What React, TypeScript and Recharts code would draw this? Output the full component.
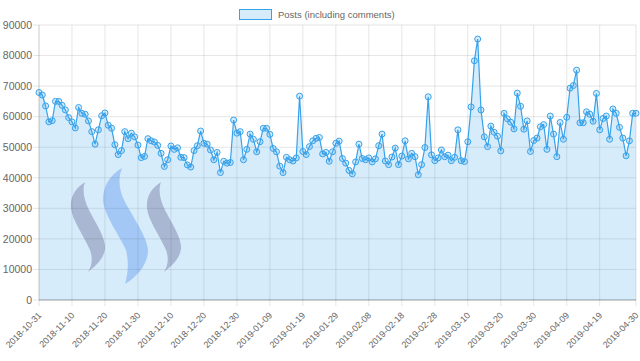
import { ComposedChart, Area, XAxis, YAxis, CartesianGrid } from 'recharts'

const startDate = '2018-10-31'

const posts = [
  67900, 67100, 63500, 58300, 58700, 65000, 65000, 63700, 62200, 59700,
  58300, 56300, 63000, 61100, 60800, 58600, 55100, 51000, 55700, 60300,
  61200, 57200, 56200, 50800, 47600, 48900, 55100, 52800, 54600, 53400,
  50700, 46600, 47000, 52800, 52100, 51700, 50600, 48000, 43700, 45900,
  50400, 49300, 49800, 46700, 46600, 44200, 43500, 48900, 50500, 55300,
  51300, 51000, 49100, 45900, 48300, 41700, 45400, 44800, 45000, 58900,
  54600, 55100, 45900, 49300, 54300, 52600, 48500, 51800, 56200, 56200,
  54200, 49600, 48500, 43800, 41700, 46700, 45900, 45500, 46500, 66700,
  48600, 47600, 50200, 52100, 52900, 53200, 47800, 48300, 45400, 48500,
  51300, 52000, 46300, 44800, 42400, 41300, 45200, 51000, 46300, 45900,
  46500, 45200, 46200, 50500, 54300, 45500, 44300, 46800, 49700, 44300,
  47100, 52100, 46200, 48000, 46900, 41000, 44300, 49900, 66500, 47500,
  45600, 46500, 49100, 46900, 47400, 45600, 46700, 55700, 45600, 45300,
  51800, 63200, 78300, 85400, 62200, 53400, 50200, 56900, 54900, 53600,
  48800, 61100, 59300, 58200, 56000, 67700, 63400, 55900, 58600, 48600,
  52200, 53000, 56700, 57400, 49300, 60200, 54300, 46900, 58100, 52600,
  59800, 69300, 70200, 75200, 58000, 58000, 61600, 60800, 58500, 67600,
  55700, 59400, 60200, 52600, 62500, 61100, 56500, 53000, 47200, 52100,
  61100, 61100,
]

const xTicks = [
  '2018-10-31', '2018-11-10', '2018-11-20', '2018-11-30', '2018-12-10',
  '2018-12-20', '2018-12-30', '2019-01-09', '2019-01-19', '2019-01-29',
  '2019-02-08', '2019-02-18', '2019-02-28', '2019-03-10', '2019-03-20',
  '2019-03-30', '2019-04-09', '2019-04-19', '2019-04-30',
]

const yTicks = [0, 10000, 20000, 30000, 40000, 50000, 60000, 70000, 80000, 90000]

const seriesName = 'Posts (including comments)'

// one label per day, starting at startDate
const dates = posts.map((_, i) => {
  const d = new Date(startDate + 'T00:00:00Z')
  d.setUTCDate(d.getUTCDate() + i)
  return d.toISOString().slice(0, 10)
})

const data = dates.map((date, i) => ({ date, posts: posts[i] }))

const BLUE = 'rgb(54,162,235)'
const BLUE_FILL = 'rgba(54,162,235,0.2)'
const FONT = '"Liberation Sans", Arial, Helvetica, sans-serif'

function DateTick({ x, y, payload }: any) {
  return (
    <text
      x={x + 3}
      y={y + 8}
      transform={`rotate(-45, ${x + 3}, ${y + 8})`}
      textAnchor="end"
      fill="#666"
      fontSize={9}
      fontFamily={FONT}
    >
      {payload.value}
    </text>
  )
}

// steem logo in the background
function Watermark() {
  const side =
    'M85,182 C76,188 70,196 71,208 C72,220 84,236 90,250 C93,258 92,266 88,272 C96,266 104,258 105,249 C106,238 96,224 89,210 C84,200 82,190 85,182 Z'
  return (
    <svg width={640} height={361} style={{ position: 'absolute', left: 0, top: 0 }}>
      <path d={side} fill="#c6bdcc" />
      <path
        d="M122,168 C110,175 103,186 103,200 C104,215 120,236 126,250 C129,262 128,274 125,284 C138,276 148,264 148,250 C147,236 132,216 124,200 C119,190 118,178 122,168 Z"
        fill="#c0d2f8"
      />
      <path d={side} fill="#c6bdcc" transform="translate(76,0)" />
    </svg>
  )
}

export default function App() {
  return (
    <div style={{ position: 'relative', width: 640, height: 361, background: '#fff' }}>
      <style>{'body{margin:0}'}</style>
      <Watermark />
      <div
        style={{
          position: 'absolute',
          left: 239,
          top: 9,
          display: 'flex',
          alignItems: 'center',
          fontFamily: FONT,
          fontSize: 9.5,
          color: '#666',
        }}
      >
        <span
          style={{
            display: 'inline-block',
            width: 31,
            height: 9,
            background: BLUE_FILL,
            border: `1px solid ${BLUE}`,
            marginRight: 6,
          }}
        />
        {seriesName}
      </div>
      <div style={{ position: 'absolute', left: 0, top: 0 }}>
        <ComposedChart width={640} height={361} data={data} margin={{ top: 25, right: 4, left: 0, bottom: 0 }}>
          <CartesianGrid stroke="rgba(0,0,0,0.1)" />
          <XAxis
            dataKey="date"
            ticks={xTicks}
            interval={0}
            height={61}
            tick={<DateTick />}
            tickSize={6}
            tickLine={{ stroke: 'rgba(0,0,0,0.1)' }}
            axisLine={{ stroke: 'rgba(0,0,0,0.3)' }}
          />
          <YAxis
            domain={[0, 90000]}
            ticks={yTicks}
            interval={0}
            width={39}
            tickSize={6}
            tickMargin={1}
            tick={{ fill: '#666', fontSize: 10.5, fontFamily: FONT }}
            tickLine={{ stroke: 'rgba(0,0,0,0.1)' }}
            axisLine={{ stroke: 'rgba(0,0,0,0.1)' }}
          />
          <Area
            type="linear"
            dataKey="posts"
            name={seriesName}
            stroke={BLUE}
            strokeWidth={1.2}
            fill={BLUE_FILL}
            fillOpacity={1}
            dot={{ r: 3, stroke: BLUE, strokeWidth: 1, fill: BLUE_FILL, fillOpacity: 1 }}
            activeDot={false}
            isAnimationActive={false}
          />
        </ComposedChart>
      </div>
    </div>
  )
}
